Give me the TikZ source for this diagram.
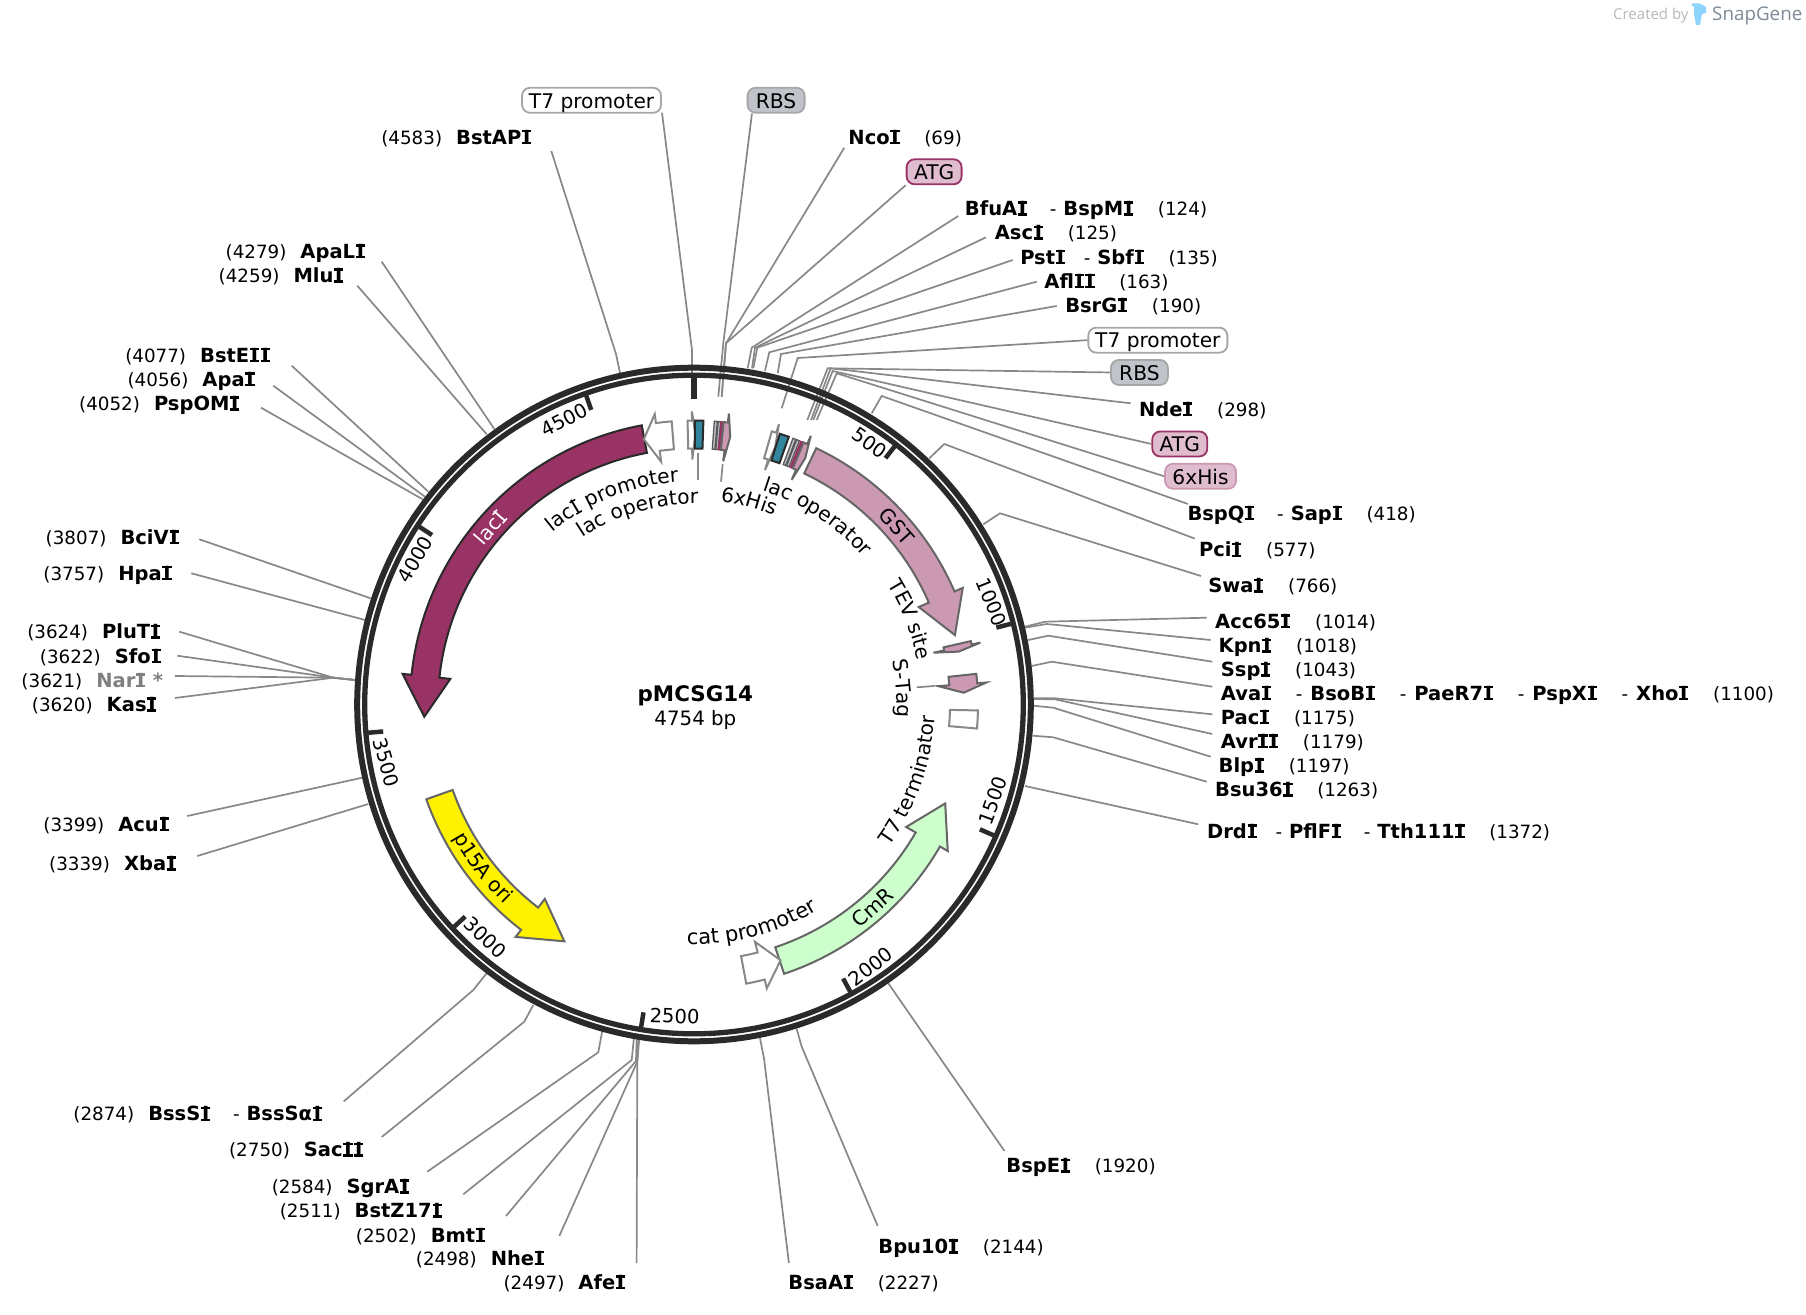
\documentclass[tikz,border=0pt]{standalone}
\usepackage{fontspec}
\setmainfont{DejaVu Sans}
\newfontfamily\logofont{Open Sans}
\usetikzlibrary{decorations.text}
\newcommand{\nm}[1]{{\fontsize{19.5}{24}\selectfont\bfseries #1}}
\newcommand{\bpn}[1]{{\fontsize{18.3}{24}\selectfont #1}}
\newcommand{\hy}{\hspace{22pt}\bpn{-}\hspace{7pt}}
\newcommand{\hyw}{\hspace{24pt}\bpn{-}\hspace{8pt}}
\newcommand{\hyn}{\hspace{18pt}\bpn{-}\hspace{7pt}}
\newcommand{\gp}{\hspace{24pt}}
\newcommand{\lp}{\hspace{14pt}}
% capital I with bars, bold and regular
\newcommand{\SI}{\kern.04em\rlap{\rule{.466em}{.125em}}\rlap{\raisebox{.604em}{\rule{.466em}{.125em}}}\makebox[.466em][c]{I}\kern.04em}
\newcommand{\RI}{\kern.05em\rlap{\rule{.32em}{.075em}}\rlap{\raisebox{.654em}{\rule{.32em}{.075em}}}\makebox[.32em][c]{I}\kern.05em}
\newcommand{\featfont}{\fontsize{20.2}{26}\selectfont}
\newcommand{\catfont}{\fontsize{21}{26}\selectfont}
\newcommand{\tickfont}{\fontsize{19.5}{24}\selectfont}
\definecolor{ringc}{HTML}{2A2A2A}
\definecolor{leadc}{HTML}{888888}
\definecolor{laciC}{HTML}{993366}
\definecolor{pinkC}{HTML}{CC99B2}
\definecolor{paleC}{HTML}{E0BCCF}
\definecolor{tealC}{HTML}{31859C}
\definecolor{greyC}{HTML}{C0C3C9}
\definecolor{logoB}{HTML}{7D8A96}
\definecolor{logoI}{HTML}{8FD3FF}
\tikzset{
  leader/.style={draw=leadc,line width=1.7pt},
  sitelab/.style={anchor=base west,inner sep=0pt,outer sep=0pt,text=black},
  pill/.style={rounded corners=8pt,line width=1.8pt,inner sep=0pt,minimum height=25pt,text height=15.5pt,text depth=0pt,font=\featfont},
  t7pill/.style={pill,draw=black!35,fill=white,minimum width=139pt},
  rbspill/.style={pill,draw=black!35,fill=greyC,minimum width=57pt},
  atgpill/.style={pill,draw=laciC,fill=paleC,minimum width=55pt},
  hispill/.style={pill,draw=pinkC,fill=paleC,minimum width=71pt},
  ticklab/.style={font=\tickfont,inner sep=0pt},
  genelab/.style={font=\featfont,inner sep=0pt},
  darkf/.style={draw=ringc,line width=2pt,line join=miter},
  greyf/.style={draw=black!60,line width=2pt,line join=miter},
  whitef/.style={draw=leadc,fill=white,line width=2pt,line join=miter},
  pinkf/.style={greyf,fill=pinkC},
  rbsf/.style={draw=black!65,line width=1.3pt,fill=greyC},
  atgf/.style={draw=laciC,line width=1.3pt,fill=laciC},
}
% gene arrow: style, back angle, head base angle, tip angle (degrees clockwise from top)
\newcommand{\gene}[4]{\path[#1] ({90-#2}:284pt) arc[start angle={90-#2},end angle={90-#3},radius=284pt] -- ({90-#3}:293pt) -- ({90-#4}:270pt) -- ({90-#3}:245pt) -- ({90-#3}:256pt) arc[start angle={90-#3},end angle={90-#2},radius=256pt] -- cycle;}
\newcommand{\block}[3]{\path[#1] ({90-#2}:284pt) arc[start angle={90-#2},end angle={90-#3},radius=284pt] -- ({90-#3}:256pt) arc[start angle={90-#3},end angle={90-#2},radius=256pt] -- cycle;}
% curved labels
\newcommand{\cwlabel}[3]{\path[decorate,decoration={text along path,text={|\featfont|#1},text align=center}] ({90-#2+45}:#3pt) arc[start angle={90-#2+45},end angle={90-#2-45},radius=#3pt];}
\newcommand{\ccwlabel}[3]{\path[decorate,decoration={text along path,text={|\featfont|#1},text align=center}] ({90-#2-45}:#3pt) arc[start angle={90-#2-45},end angle={90-#2+45},radius=#3pt];}
\newcommand{\catlabel}[3]{\path[decorate,decoration={text along path,text={|\catfont|#1},text align=center}] ({90-#2-45}:#3pt) arc[start angle={90-#2-45},end angle={90-#2+45},radius=#3pt];}
% connectors: name, ring end, bend, free end
\newcommand{\lnk}[4]{\coordinate (#1-r) at (#2); \coordinate (#1-b) at (#3); \coordinate (#1-e) at (#4); \draw[leader] (#1-r) -- (#1-b) -- (#1-e);}
\newcommand{\lnks}[3]{\coordinate (#1-r) at (#2); \coordinate (#1-e) at (#3); \draw[leader] (#1-r) -- (#1-e);}
\newcommand{\lnkp}[4]{\coordinate (#1-r) at (#2); \coordinate (#1-b) at (#3); \draw[leader] (#1-r) -- (#1-b) -- (#4);}
\newcommand{\site}[4]{\node[sitelab] (#1) at ({#2-1.3},{#3+6}) {#4};}
\begin{document}
\begin{tikzpicture}[x=1pt,y=1pt]
\useasboundingbox (-694pt,704.5pt) rectangle (1112pt,-609.5pt);
\path[fill=white] (-694pt,704.5pt) rectangle (1112pt,-609.5pt);

% ---------- feature pills and site labels, positions in 1/1.1533 units
\begin{scope}[x=1.1533pt,y=-1.1533pt,shift={(-601.8,-610.9)}]
\node[t7pill]  (pT7a) at (513,87) {T7 promoter};
\node[rbspill] (pRBSa) at (673,87) {RBS};
\node[atgpill] (pATGa) at (810,149) {ATG};
\node[t7pill]  (pT7b) at (1004,295) {T7 promoter};
\node[rbspill] (pRBSb) at (988,323) {RBS};
\node[atgpill] (pATGb) at (1023,385) {ATG};
\node[hispill] (pHISb) at (1041,413) {6xHis};

\site{BstAPI}{332}{119}{\bpn{(4583)}\lp\nm{BstAP\SI}}
\site{ApaLI}{197}{218}{\bpn{(4279)}\lp\nm{ApaL\SI}}
\site{MluI}{191}{239}{\bpn{(4259)}\lp\nm{Mlu\SI}}
\site{BstEII}{110}{308}{\bpn{(4077)}\lp\nm{BstE\SI\SI}}
\site{ApaI}{112}{329}{\bpn{(4056)}\lp\nm{Apa\SI}}
\site{PspOMI}{70}{350}{\bpn{(4052)}\lp\nm{PspOM\SI}}
\site{BciVI}{41}{466}{\bpn{(3807)}\lp\nm{BciV\SI}}
\site{HpaI}{39}{497}{\bpn{(3757)}\lp\nm{Hpa\SI}}
\site{PluTI}{25}{548}{\bpn{(3624)}\lp\nm{PluT\SI}}
\site{SfoI}{36}{569}{\bpn{(3622)}\lp\nm{Sfo\SI}}
\site{NarI}{20}{590}{\bpn{(3621)}\lp\textcolor{black!50}{\nm{Nar\SI{} *}}}
\site{KasI}{29}{611}{\bpn{(3620)}\lp\nm{Kas\SI}}
\site{AcuI}{39}{715}{\bpn{(3399)}\lp\nm{Acu\SI}}
\site{XbaI}{44}{749}{\bpn{(3339)}\lp\nm{Xba\SI}}
\site{BssSI}{65}{966}{\bpn{(2874)}\lp\nm{BssS\SI}\hy\nm{BssSα\SI}}
\site{SacII}{200}{997}{\bpn{(2750)}\lp\nm{Sac\SI\SI}}
\site{SgrAI}{237}{1029}{\bpn{(2584)}\lp\nm{SgrA\SI}}
\site{BstZ}{244}{1050}{\bpn{(2511)}\lp\nm{BstZ17\SI}}
\site{BmtI}{310}{1071}{\bpn{(2502)}\lp\nm{Bmt\SI}}
\site{NheI}{362}{1091}{\bpn{(2498)}\lp\nm{Nhe\SI}}
\site{AfeI}{438}{1112}{\bpn{(2497)}\lp\nm{Afe\SI}}
\site{BsaAI}{685}{1112}{\nm{BsaA\SI}\gp\bpn{(2227)}}
\site{Bpu}{763}{1081}{\nm{Bpu10\SI}\gp\bpn{(2144)}}
\site{BspEI}{874}{1011}{\nm{BspE\SI}\gp\bpn{(1920)}}
\site{DrdI}{1048}{721}{\nm{Drd\SI}\hyn\nm{PflF\SI}\hy\nm{Tth111\SI}\gp\bpn{(1372)}}
\site{Bsu}{1055}{685}{\nm{Bsu36\SI}\gp\bpn{(1263)}}
\site{BlpI}{1058}{664}{\nm{Blp\SI}\gp\bpn{(1197)}}
\site{AvrII}{1060}{643}{\nm{Avr\SI\SI}\gp\bpn{(1179)}}
\site{PacI}{1060}{622}{\nm{Pac\SI}\gp\bpn{(1175)}}
\site{AvaI}{1060}{601}{\nm{Ava\SI}\hyw\nm{BsoB\SI}\hyw\nm{PaeR7\SI}\hyw\nm{PspX\SI}\hyw\nm{Xho\SI}\gp\bpn{(1100)}}
\site{SspI}{1060}{581}{\nm{Ssp\SI}\gp\bpn{(1043)}}
\site{KpnI}{1058}{560}{\nm{Kpn\SI}\gp\bpn{(1018)}}
\site{Acc}{1055}{539}{\nm{Acc65\SI}\gp\bpn{(1014)}}
\site{SwaI}{1049}{508}{\nm{Swa\SI}\gp\bpn{(766)}}
\site{PciI}{1041}{477}{\nm{Pci\SI}\gp\bpn{(577)}}
\site{BspQI}{1031}{445}{\nm{BspQ\SI}\hy\nm{Sap\SI}\gp\bpn{(418)}}
\site{NdeI}{989}{355}{\nm{Nde\SI}\gp\bpn{(298)}}
\site{BsrGI}{925}{265}{\nm{BsrG\SI}\gp\bpn{(190)}}
\site{AflII}{907}{244}{\nm{Afl\SI\SI}\gp\bpn{(163)}}
\site{PstI}{886}{223}{\nm{Pst\SI}\hyn\nm{Sbf\SI}\gp\bpn{(135)}}
\site{AscI}{864}{202}{\nm{Asc\SI}\gp\bpn{(125)}}
\site{BfuAI}{838}{181}{\nm{BfuA\SI}\hy\nm{BspM\SI}\gp\bpn{(124)}}
\site{NcoI}{737}{119}{\nm{Nco\SI}\gp\bpn{(69)}}

\node[font={\fontsize{21.4}{26}\selectfont\bfseries},inner sep=0pt] (title) at (603,603.5) {pMCSG14};
\node[font={\fontsize{19.8}{24}\selectfont},inner sep=0pt] (size) at (603,624) {4754 bp};

\node[ticklab,rotate=-35] (t500) at (754,384) {500};
\node[ticklab,rotate=-68] (t1000) at (860,522) {1000};
\node[ticklab,rotate=70] (t1500) at (861,694) {1500};
\node[ticklab,rotate=38] (t2000) at (755,838) {2000};
\node[ticklab,rotate=-2] (t2500) at (585,881) {2500};
\node[ticklab,rotate=-43] (t3000) at (421,813) {3000};
\node[ticklab,rotate=-74] (t3500) at (335,661) {3500};
\node[ticklab,rotate=60] (t4000) at (360,485) {4000};
\node[ticklab,rotate=27] (t4500) at (489,364) {4500};
\end{scope}

% ---------- connectors, ring and logo in image pixels
\begin{scope}[x=1pt,y=-1pt,shift={(-694,-704.5)}]
\lnkp{T7a}{692,399}{692,350}{pT7a.-10}
\lnkp{RBSa}{718.3,396.7}{723.3,343.3}{pRBSa.-151}
\lnk{NcoI}{721.7,396.7}{726,343.3}{844.3,147.7}
\lnkp{ATGa}{721.7,396.7}{726,343.3}{pATGa.south west}
\lnk{BfuAI}{747.7,368.3}{751.7,347.7}{958.3,216}
\lnk{AscI}{752,368.3}{755,347.7}{986,237.3}
\lnk{PstI}{753.3,368.3}{757.3,347.7}{1012.7,260}
\lnk{AflII}{765,370.7}{769.3,352.3}{1036.7,281.7}
\lnk{BsrGI}{777.7,373.3}{781,354}{1056.7,306}
\lnkp{T7b}{781.7,408.3}{797.7,358}{pT7b.west}
\lnkp{RBSb}{807.3,420}{827.7,368.3}{pRBSb.west}
\lnk{NdeI}{811,420}{830.7,368.3}{1130.7,403.3}
\lnkp{ATGb}{813.3,420}{832.7,371}{pATGb.west}
\lnkp{HISb}{816.7,420}{836.7,373.3}{pHISb.west}
\lnk{BspQI}{871.7,413.3}{881.7,396}{1187.9,504}
\lnk{PciI}{929.3,458.3}{944.3,444}{1194.7,538.6}
\lnk{SwaI}{983.3,524.3}{1000,513.3}{1201,576}
\lnk{Acc}{1025,626.7}{1045,621.7}{1206.7,617.7}
\lnk{KpnI}{1025,627.7}{1046.7,624}{1210.7,640}
\lnk{SspI}{1028.3,640}{1048.3,635.7}{1212.3,661.7}
\lnk{AvaI}{1031.7,666}{1051.7,661.7}{1212.3,686.7}
\lnk{PacI}{1033.3,698.3}{1055,698.3}{1212.3,714.3}
\lnk{AvrII}{1033.3,699}{1055,699.3}{1212.3,734}
\lnk{BlpI}{1033.3,705.7}{1053.3,707.7}{1210.7,756.7}
\lnk{Bsu}{1032.7,735.7}{1053.3,737.3}{1206.7,781.7}
\lnks{DrdI}{1025,786}{1198.3,824.3}
\lnks{BspEI}{888.3,983.3}{1004.5,1151}
\lnk{Bpu}{796.7,1029}{801.7,1046.7}{877.7,1226}
\lnk{BsaAI}{760,1038.3}{764,1058.3}{788.9,1263}
\lnk{AfeI}{639.3,1038.3}{637.3,1061.7}{636.6,1263}
\lnk{NheI}{638.3,1038.3}{637.3,1061.7}{559.3,1236}
\lnk{BmtI}{636.7,1038.3}{636,1061}{506,1216}
\lnk{BstZ}{634,1037.3}{631.7,1060}{463.3,1194.3}
\lnk{SgrAI}{602.3,1030.7}{598.3,1052.3}{427.3,1171.7}
\lnk{SacII}{533.3,1005}{524.3,1021.7}{381.7,1137}
\lnk{BssSI}{486.7,973.3}{473.3,990}{343.7,1101.4}
\lnks{XbaI}{368.3,804}{197.3,856}
\lnks{AcuI}{362.3,777.7}{187.3,816}
\lnk{KasI}{355,680}{333.3,677.7}{175,698}
\lnk{NarI}{355,680}{333.3,677.7}{175,676}
\lnk{SfoI}{355,680}{333.3,677.7}{177.3,655.7}
\lnk{PluTI}{355,680}{333.3,677.7}{179.3,631.7}
\lnks{HpaI}{365,620}{191.3,573.3}
\lnks{BciVI}{370.7,598.3}{199.3,539.3}
\lnks{PspOMI}{422.7,499.3}{261,407.7}
\lnks{ApaI}{425,496.7}{273.3,385.7}
\lnks{BstEII}{428.3,491.7}{291.7,365.7}
\lnks{MluI}{486.7,434.3}{357.3,285.7}
\lnks{ApaLI}{494.3,429}{381.7,261.7}
\lnk{BstAPI}{620,373}{616,354}{551.3,151}
% short leaders of inner labels
\lnks{lacOp}{698.3,453.3}{698.3,480}
\lnks{hisIn}{722.7,464}{721,481.7}
\lnks{stagIn}{934,686}{916.7,687.3}
% logo
\node[anchor=west,inner sep=0pt,text=black!28,font={\logofont\fontsize{15}{18}\selectfont}] (logoA) at (1613,16) {Created by};
\path[fill=logoI] (1692,3.5) -- (1700,3.5) -- (1706,7) -- (1706,13) -- (1702,14) -- (1700,25) -- (1696,25) -- (1694,14) -- (1694,6.5) -- (1692,6.5) -- cycle;
\node[anchor=west,inner sep=0pt,text=logoB,font={\logofont\fontsize{18.8}{20}\selectfont}] (logoN) at (1712,16) {SnapGene};
\end{scope}

% ---------- ring and ticks
\draw[ringc,line width=6pt] (0,0) circle (336.8pt);
\draw[ringc,line width=5.3pt] (0,0) circle (329.3pt);
\draw[ringc,line width=6pt] (90:327pt) -- (90:305pt);
\foreach \bpos in {500,1000,...,4500}{
  \pgfmathsetmacro{\ang}{90-\bpos/4754*360}
  \draw[ringc,line width=4.5pt] (\ang:327pt) -- (\ang:312pt);
}

% ---------- features
\gene{darkf,fill=laciC}{349.4}{276}{267.4}
\gene{whitef}{355.5}{352.3}{349.3}
\gene{whitef}{358.7}{359.6}{360.3}
\block{darkf,fill=tealC}{360.2}{361.9}
\block{rbsf}{364.1}{364.7}
\block{rbsf}{364.9}{365.4}
\block{atgf}{365.5}{365.9}
\gene{pinkf}{366}{366.85}{367.7}
\gene{whitef}{15.9}{16.85}{17.5}
\block{darkf,fill=tealC}{17.6}{19.5}
\block{rbsf}{20.4}{21}
\block{rbsf}{21.2}{21.8}
\block{atgf}{22.1}{22.5}
\gene{pinkf}{22.7}{23.5}{24.3}
\gene{pinkf}{25.5}{66.55}{75.1}
\gene{pinkf}{77.1}{77.8}{78.7}
\gene{pinkf}{83.8}{85.7}{87.5}
\block{whitef}{91.2}{94.85}
\gene{greyf,fill=green!20!white}{161.5}{120}{111.5}
\gene{whitef}{169.4}{165.6}{161.3}
\gene{greyf,fill=yellow}{250.5}{217.5}{208.7}

% ---------- labels on the features
\node[genelab,text=white,rotate=49] (lacIlab) at (139:270pt) {lac\RI};
\node[genelab,rotate=-48.7] (GSTlab) at (41.3:270pt) {GST};
\node[genelab,rotate=41.4] (CmRlab) at (-48.6:270pt) {CmR};
\ccwlabel{p15A ori}{232.3}{275}
\cwlabel{lac{\RI} promoter}{338.3}{223}
\cwlabel{lac operator}{343.7}{200.5}
\cwlabel{6xHis}{15.2}{205}
\cwlabel{lac operator}{33.3}{224.5}
\cwlabel{TEV site}{68.5}{228}
\cwlabel{S-Tag}{85.6}{203}
\ccwlabel{T7 terminator}{109.4}{241}
\catlabel{cat promoter}{165.3}{240}
\end{tikzpicture}
\end{document}
